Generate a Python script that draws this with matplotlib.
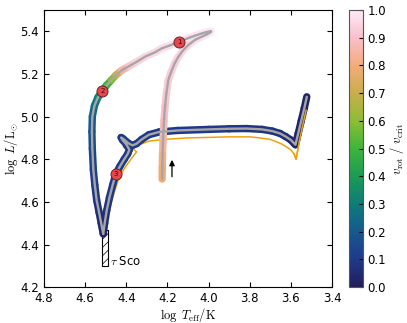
import numpy as np
import matplotlib
matplotlib.use('Agg')
import matplotlib.pyplot as plt
from matplotlib.collections import LineCollection
from matplotlib.colors import LinearSegmentedColormap, Normalize
from matplotlib.patches import Rectangle

plt.rcParams['mathtext.fontset'] = 'cm'
plt.rcParams['xtick.direction'] = 'in'
plt.rcParams['ytick.direction'] = 'in'
plt.rcParams['xtick.top'] = True
plt.rcParams['ytick.right'] = True
plt.rcParams['hatch.linewidth'] = 0.5

# accretor track (left branch + loop)
logT_a = [4.512, 4.522, 4.532, 4.544, 4.553, 4.56, 4.565, 4.567, 4.565, 4.555, 4.538,
          4.517, 4.495, 4.472, 4.45, 4.425, 4.39, 4.358, 4.309, 4.26, 4.228, 4.185,
          4.142, 4.10, 4.05, 4.01, 3.988, 3.99, 4.01, 4.04, 4.066, 4.10, 4.125, 4.147,
          4.165, 4.182, 4.196, 4.205, 4.212, 4.217, 4.221, 4.224, 4.225, 4.226]
logL_a = [4.45, 4.50, 4.55, 4.608, 4.68, 4.75, 4.85, 4.93, 5.0, 5.05, 5.09,
          5.121, 5.148, 5.172, 5.195, 5.215, 5.235, 5.252, 5.281, 5.302, 5.32, 5.335,
          5.351, 5.368, 5.385, 5.397, 5.401, 5.396, 5.385, 5.372, 5.36, 5.335, 5.31, 5.281,
          5.25, 5.21, 5.171, 5.11, 5.046, 4.98, 4.90, 4.82, 4.76, 4.707]
vrot_a = [0.02, 0.04, 0.06, 0.08, 0.1, 0.12, 0.15, 0.18, 0.21, 0.25, 0.3,
          0.36, 0.46, 0.55, 0.64, 0.8, 0.9, 0.94, 0.95, 0.96, 0.96, 0.97,
          0.97, 0.98, 0.98, 0.99, 1.0, 1.0, 0.99, 0.98, 0.97, 0.96, 0.95, 0.95,
          0.94, 0.93, 0.93, 0.92, 0.91, 0.89, 0.86, 0.83, 0.8, 0.78]

# rotating single-star track
logT_b = [4.512, 4.505, 4.495, 4.482, 4.466, 4.451, 4.432, 4.41, 4.393, 4.385, 4.40,
          4.418, 4.425, 4.415, 4.39, 4.37, 4.35, 4.325, 4.29, 4.24, 4.15, 4.0,
          3.9, 3.815, 3.74, 3.69, 3.653, 3.625, 3.60, 3.585, 3.578, 3.565, 3.55,
          3.535, 3.523]
logL_b = [4.45, 4.50, 4.56, 4.62, 4.68, 4.73, 4.765, 4.80, 4.825, 4.845, 4.87,
          4.89, 4.902, 4.896, 4.875, 4.865, 4.873, 4.893, 4.915, 4.928, 4.935, 4.94,
          4.943, 4.944, 4.94, 4.932, 4.921, 4.906, 4.89, 4.875, 4.868, 4.92, 4.98,
          5.04, 5.093]
vrot_b = [0.03, 0.05, 0.07, 0.09, 0.1, 0.1, 0.1, 0.1, 0.1, 0.1, 0.1,
          0.1, 0.1, 0.1, 0.1, 0.1, 0.1, 0.1, 0.1, 0.1, 0.1, 0.1,
          0.09, 0.09, 0.08, 0.08, 0.07, 0.06, 0.05, 0.04, 0.04, 0.03, 0.03,
          0.02, 0.02]

# non-rotating track
logT_c = [4.512, 4.50, 4.487, 4.473, 4.46, 4.439, 4.42, 4.40, 4.385, 4.37, 4.36,
          4.35, 4.37, 4.395, 4.415, 4.405, 4.38, 4.36, 4.34, 4.29, 4.22, 4.1,
          3.9, 3.8, 3.75, 3.70, 3.65, 3.62, 3.60, 3.585, 3.575, 3.56, 3.545, 3.526]
logL_c = [4.44, 4.49, 4.546, 4.595, 4.64, 4.702, 4.74, 4.77, 4.79, 4.81, 4.822,
          4.835, 4.85, 4.86, 4.858, 4.85, 4.845, 4.855, 4.867, 4.885, 4.893, 4.90,
          4.905, 4.905, 4.90, 4.893, 4.874, 4.857, 4.843, 4.825, 4.80, 4.88, 4.95, 5.03]

# numbered markers
mark_T = [4.142, 4.517, 4.451]
mark_L = [5.351, 5.121, 4.73]
mark_lab = ['1', '2', '3']

cmap = LinearSegmentedColormap.from_list('vrot', [
    '#221d5c', '#1f3a8a', '#16598f', '#0e7d78', '#1b9b55', '#3db53a',
    '#8dbd35', '#c9ae4a', '#f4ab7a', '#f9bfcb', '#fde9f6'])
norm = Normalize(0, 1)

fig = plt.figure(figsize=(4.07, 3.23), dpi=100)
ax = fig.add_axes([0.108, 0.111, 0.708, 0.858])
cax = fig.add_axes([0.857, 0.111, 0.034, 0.858])


def track(x, y, v):
    x = np.array(x); y = np.array(y); v = np.array(v)
    pts = np.column_stack([x, y]).reshape(-1, 1, 2)
    segs = np.concatenate([pts[:-1], pts[1:]], axis=1)
    vm = 0.5 * (v[:-1] + v[1:])
    lc = LineCollection(segs, colors=cmap(norm(vm)), linewidths=5.3,
                        capstyle='round', joinstyle='round', zorder=2)
    ax.add_collection(lc)
    ax.plot(x, y, color='#a6a6a6', lw=1.7, solid_capstyle='round',
            solid_joinstyle='round', zorder=3)


ax.plot(logT_c, logL_c, color='#eda20c', lw=1.1, zorder=1)
track(logT_b, logL_b, vrot_b)
track(logT_a, logL_a, vrot_a)
ax.plot(logT_c[-5:], logL_c[-5:], color='#eda20c', lw=1.1, zorder=4)

for t, l, s in zip(mark_T, mark_L, mark_lab):
    ax.plot(t, l, 'o', ms=8, mfc='#e4474d', mec='#5a1a1a', mew=0.6, zorder=5)
    ax.text(t, l, s, fontsize=5, ha='center', va='center', color='#3a0a0a', zorder=6)

ax.add_patch(Rectangle((4.49, 4.30), 0.03, 0.17, fill=False, hatch='////',
                       ec='black', lw=0.8, zorder=0))
ax.text(4.478, 4.318, r'$\tau$ Sco', fontsize=8.5, va='center', ha='left')

ax.annotate('', xy=(4.178, 4.81), xytext=(4.178, 4.705),
            arrowprops=dict(arrowstyle='-|>', color='black', lw=0.9,
                            mutation_scale=8))

ax.set_xlim(4.8, 3.4)
ax.set_ylim(4.2, 5.5)
ax.set_xticks(np.arange(4.8, 3.39, -0.2))
ax.set_yticks(np.arange(4.2, 5.41, 0.2))
ax.set_xticklabels(['4.8', '4.6', '4.4', '4.2', '4.0', '3.8', '3.6', '3.4'])
ax.set_yticklabels(['4.2', '4.4', '4.6', '4.8', '5.0', '5.2', '5.4'])
ax.tick_params(labelsize=8.5)
ax.set_xlabel(r'$\log\ T_{\rm eff}/{\rm K}$', fontsize=9, labelpad=1)
ax.set_ylabel(r'$\log\ L/{\rm L}_{\odot}$', fontsize=9, labelpad=0)

sm = plt.cm.ScalarMappable(cmap=cmap, norm=norm)
cb = fig.colorbar(sm, cax=cax)
cb.set_ticks(np.arange(0, 1.01, 0.1))
cb.ax.tick_params(labelsize=8.5, direction='in', length=3)
cb.outline.set_edgecolor('#555555')
cb.set_label(r'$v_{\rm rot}\ /\ v_{\rm crit}$', fontsize=9, labelpad=1)

fig.savefig('out.png', dpi=100)
